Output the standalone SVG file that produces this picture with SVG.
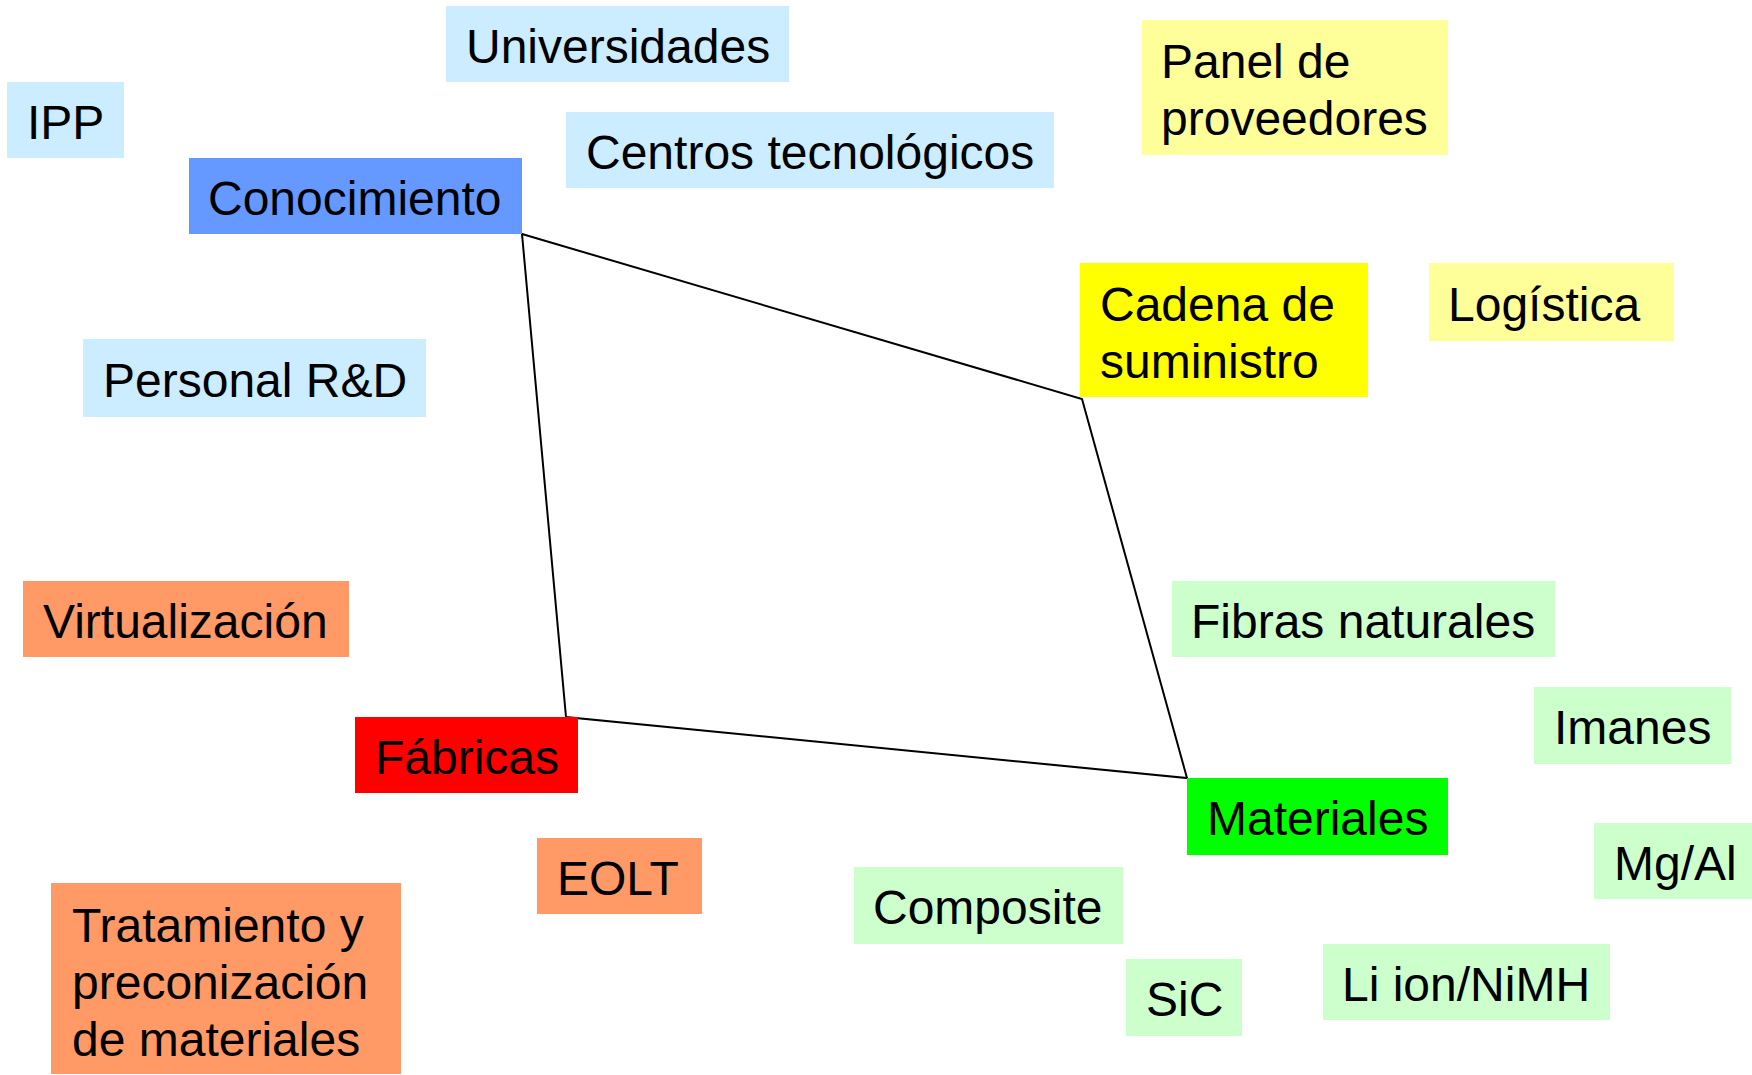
<svg xmlns="http://www.w3.org/2000/svg" width="1752" height="1075" viewBox="0 0 1752 1075">
<style>
text{font-family:"Liberation Sans",Arial,sans-serif;font-size:48px;fill:#000}
.lb{fill:#CCECFF}.bl{fill:#6699FF}.ly{fill:#FFFF99}.yl{fill:#FFFF00}.lg{fill:#CCFFCC}.gr{fill:#00FF00}.rd{fill:#FF0000}.or{fill:#FF9966}
.conn{fill:none;stroke:#000;stroke-width:2}
</style>
<rect width="1752" height="1075" fill="#fff"/>
<g id="connectors">
<polygon class="conn" points="522,234 1082,399 1187,778 566,717"/>
</g>
<g id="universidades"><rect class="lb" x="446" y="6" width="343" height="76"/><text x="466" y="63">Universidades</text></g>
<g id="ipp"><rect class="lb" x="7" y="82" width="117" height="76"/><text x="27" y="139">IPP</text></g>
<g id="conocimiento"><rect class="bl" x="189" y="158" width="333" height="76"/><text x="208" y="215">Conocimiento</text></g>
<g id="centros"><rect class="lb" x="566" y="112" width="488" height="76"/><text x="586" y="169">Centros tecnológicos</text></g>
<g id="panel"><rect class="ly" x="1142" y="20" width="306" height="135"/><text x="1161" y="78">Panel de</text><text x="1161" y="135">proveedores</text></g>
<g id="cadena"><rect class="yl" x="1080" y="263" width="288" height="134"/><text x="1100" y="321">Cadena de</text><text x="1100" y="378">suministro</text></g>
<g id="logistica"><rect class="ly" x="1429" y="263" width="245" height="78"/><text x="1448" y="321">Logística</text></g>
<g id="personal"><rect class="lb" x="83" y="339" width="343" height="78"/><text x="103" y="397">Personal R&amp;D</text></g>
<g id="virtualizacion"><rect class="or" x="23" y="581" width="326" height="76"/><text x="43" y="638">Virtualización</text></g>
<g id="fibras"><rect class="lg" x="1172" y="581" width="383" height="76"/><text x="1191" y="638">Fibras naturales</text></g>
<g id="imanes"><rect class="lg" x="1534" y="687" width="197" height="77"/><text x="1554" y="744">Imanes</text></g>
<g id="fabricas"><rect class="rd" x="355" y="717" width="223" height="76"/><text x="375" y="774">Fábricas</text></g>
<g id="materiales"><rect class="gr" x="1187" y="778" width="261" height="77"/><text x="1207" y="835">Materiales</text></g>
<g id="eolt"><rect class="or" x="537" y="838" width="165" height="76"/><text x="557" y="895">EOLT</text></g>
<g id="mgal"><rect class="lg" x="1594" y="823" width="158" height="76"/><text x="1614" y="880">Mg/Al</text></g>
<g id="tratamiento"><rect class="or" x="51" y="883" width="350" height="191"/><text x="72" y="942">Tratamiento y</text><text x="72" y="999">preconización</text><text x="72" y="1056">de materiales</text></g>
<g id="composite"><rect class="lg" x="854" y="867" width="269" height="77"/><text x="873" y="924">Composite</text></g>
<g id="sic"><rect class="lg" x="1126" y="959" width="116" height="77"/><text x="1146" y="1016">SiC</text></g>
<g id="liion"><rect class="lg" x="1323" y="944" width="287" height="76"/><text x="1342" y="1001">Li ion/NiMH</text></g>
</svg>
